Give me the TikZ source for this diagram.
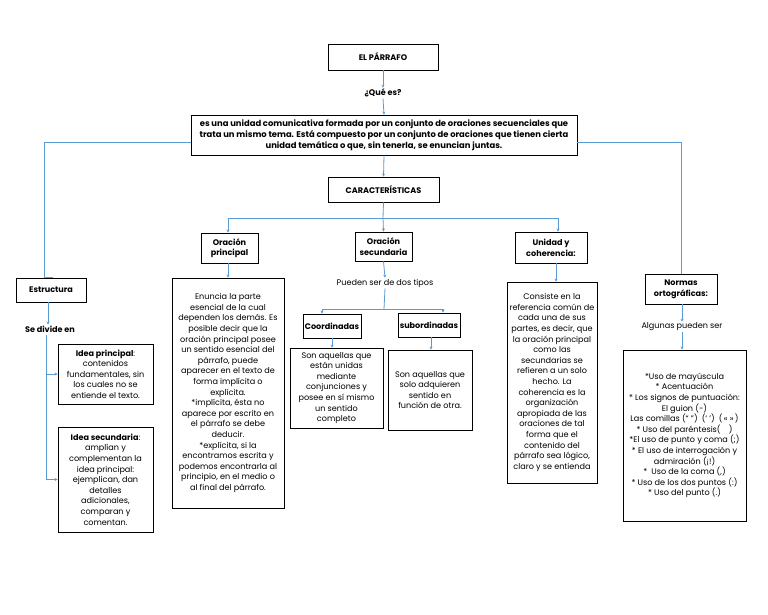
\documentclass[tikz,border=0pt]{standalone}
\usepackage{fontspec}
\setmainfont{Poppins}
\usetikzlibrary{arrows.meta}
\definecolor{conncol}{HTML}{5B9BD5}
\tikzset{
  box/.style={draw=black, line width=0.9pt, inner sep=1pt, align=center, font=\txt},
  tbox/.style={box, font=\txt\bfseries},
  lbl/.style={inner sep=1pt, align=center, font=\txt},
  conn/.style={draw=conncol, line width=0.8pt},
  arr/.style={conn, -{Stealth[length=3pt,width=3pt]}},
}
\newcommand{\txt}{\fontsize{8.1}{10.6}\selectfont}
\newcommand{\deftxt}{\fontsize{8.4}{11}\selectfont}
\begin{document}
\begin{tikzpicture}[x=1pt,y=-1pt]
\fill[white] (0,0) rectangle (768,614);
\useasboundingbox (0,0) rectangle (768,614);
% top
\node[tbox, minimum width=110pt, minimum height=26pt] (parrafo) at (383,57) {EL PÁRRAFO};
\node[lbl, font=\txt\bfseries] (que) at (383,93) {¿Qué es?};
\node[tbox, font=\deftxt\bfseries, minimum width=386pt, minimum height=40pt] (def) at (384,135) {es una unidad comunicativa formada por un conjunto de oraciones secuenciales que\\trata un mismo tema. Está compuesto por un conjunto de oraciones que tienen cierta\\unidad temática o que, sin tenerla, se enuncian juntas.};
\node[tbox, minimum width=111pt, minimum height=25pt] (car) at (383.5,189.5) {CARACTERÍSTICAS};
% branches
\node[tbox, minimum width=57pt, minimum height=30pt] (op) at (229.5,248) {Oración\\principal};
\node[tbox, minimum width=57pt, minimum height=29pt] (os) at (383.5,246.5) {Oración\\secundaria};
\node[tbox, minimum width=72pt, minimum height=31pt] (uc) at (551,247.5) {Unidad y\\coherencia:};
\node[tbox, minimum width=70pt, minimum height=24pt] (est) at (51,290) {Estructura};
\node[tbox, minimum width=72pt, minimum height=30pt] (nor) at (681,289) {Normas\\ortográficas:};
% estructura
\node[lbl, font=\txt\bfseries] (sediv) at (50,329) {Se divide en};
\node[box, minimum width=95pt, minimum height=60pt] (ip) at (105.5,374) {\textbf{Idea principal}:\\contenidos\\fundamentales, sin\\los cuales no se\\entiende el texto.};
\node[box, minimum width=95pt, minimum height=105pt] (is) at (105.5,479.5) {\textbf{Idea secundaria}:\\amplían y\\complementan la\\idea principal:\\ejemplican, dan\\detalles\\adicionales,\\comparan y\\comentan.};
% oracion principal
\node[box, minimum width=112pt, minimum height=230pt] (opt) at (228,393) {Enuncia la parte\\esencial de la cual\\dependen los demás. Es\\posible decir que la\\oración principal posee\\un sentido esencial del\\párrafo, puede\\aparecer en el texto de\\forma implícita o\\explícita.\\*implícita, ésta no\\aparece por escrito en\\el párrafo se debe\\deducir.\\*explícita, si la\\encontramos escrita y\\podemos encontrarla al\\principio, en el medio o\\al final del párrafo.};
% oracion secundaria
\node[lbl] (pst) at (385,283) {Pueden ser de dos tipos};
\node[tbox, minimum width=58pt, minimum height=24pt] (coo) at (332,326) {Coordinadas};
\node[tbox, minimum width=62pt, minimum height=24pt] (sub) at (429,325) {subordinadas};
\node[box, minimum width=93pt, minimum height=80pt] (coot) at (336.5,388) {Son aquellas que\\están unidas\\mediante\\conjunciones y\\posee en sí mismo\\un sentido\\completo};
\node[box, minimum width=84pt, minimum height=80pt] (subt) at (430,390) {Son aquellas que\\solo adquieren\\sentido en\\función de otra.};
% unidad
\node[box, minimum width=90pt, minimum height=201pt] (uct) at (552,382.5) {Consiste en la\\referencia común de\\cada una de sus\\partes, es decir, que\\la oración principal\\como las\\secundarias se\\refieren a un solo\\hecho. La\\coherencia es la\\organización\\apropiada de las\\oraciones de tal\\forma que el\\contenido del\\párrafo sea lógico,\\claro y se entienda};
% normas
\node[lbl] (alg) at (682,327) {Algunas pueden ser};
\node[box, minimum width=123pt, minimum height=171pt] (nort) at (684.5,435.5) {*Uso de mayúscula\\* Acentuación\\* Los signos de puntuación:\\El guion (-)\\Las comillas (“ ”)\enspace (‘ ’)\enspace (\,« »\,)\\* Uso del paréntesis(\enspace\enspace)\\*El uso de punto y coma (;)\\* El uso de interrogación y\\admiración (¡!)\\*\enspace Uso de la coma (,)\\* Uso de los dos puntos (:)\\* Uso del punto (.)};
% coordinates
\coordinate (lb) at (44,277);
\coordinate (le) at (53,277);
\coordinate (cj) at (383,218);
\coordinate (pj) at (384,309);
\coordinate (sj) at (46,335);
% connectors top
\draw[arr] (parrafo.south) -- (que.north);
\draw[arr] (que.south) -- (def.north);
\draw[conn] ([yshift=-7pt]def.west) -| (lb) -- (le);
\draw[conn] ([yshift=-7pt]def.east) -| (nor.north);
\draw[arr] (def.south) -- (car.north);
% caracteristicas branches
\draw[conn] (car.south) -- (cj);
\draw[conn] ([xshift=-1.5pt]op.north |- cj) -- ([xshift=7pt]uc.north |- cj);
\draw[arr] ([xshift=-1.5pt]op.north |- cj) -- ([xshift=-1.5pt]op.north);
\draw[arr] (cj) -- (os.north);
\draw[arr] ([xshift=7pt]uc.north |- cj) -- ([xshift=7pt]uc.north);
% oracion principal
\draw[arr] ([xshift=-1.5pt]op.south) -- ([xshift=-1.5pt]op.south |- opt.north);
% oracion secundaria
\draw[arr] (os.south) -- (pst.north);
\draw[conn] (pst.south) -- (pj);
\draw[conn] ([xshift=-10pt]coo.north |- pj) -- ([xshift=14pt]sub.north |- pj);
\draw[arr] ([xshift=-10pt]coo.north |- pj) -- ([xshift=-10pt]coo.north);
\draw[arr] ([xshift=14pt]sub.north |- pj) -- ([xshift=14pt]sub.north);
\draw[arr] (coo.south) -- (coo.south |- coot.north);
\draw[arr] ([xshift=2pt]sub.south) -- ([xshift=2pt]sub.south |- subt.north);
% unidad
\draw[arr] ([xshift=5pt]uc.south) -- ([xshift=5pt]uc.south |- uct.north);
% estructura
\draw[arr] ([xshift=-3pt]est.south) -- ([xshift=-3pt]est.south |- sediv.north);
\draw[conn] (sj) -- (sj |- is.west);
\draw[arr] (sj |- ip.west) -- (ip.west);
\draw[arr] (sj |- is.west) -- (is.west);
% normas
\draw[arr] ([xshift=1pt]nor.south) -- ([xshift=1pt]nor.south |- alg.north);
\draw[arr] (alg.south) -- (alg.south |- nort.north);
\end{tikzpicture}
\end{document}
